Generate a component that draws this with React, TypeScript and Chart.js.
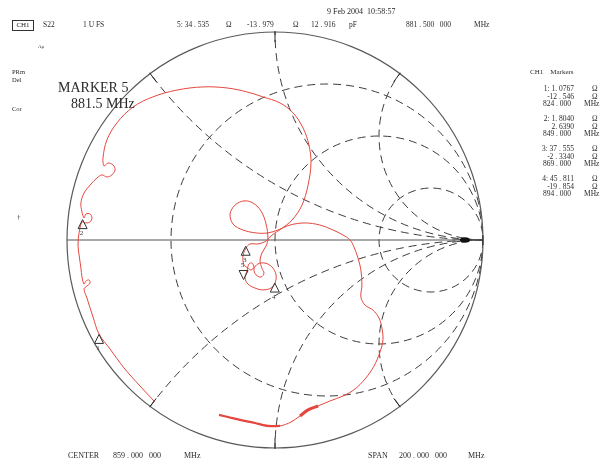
import React, { useEffect, useRef } from "react";
import { Chart, registerables } from "chart.js";
Chart.register(...registerables);

// S22 trace, reflection coefficient (real, imaginary), 759 -> 959 MHz
const traceRe = [
  -0.577, -0.649, -0.726, -0.793, -0.846, -0.875, -0.904, -0.918, -0.904, -0.889,
  -0.894, -0.909, -0.918, -0.928, -0.933, -0.942, -0.947, -0.942, -0.928, -0.909,
  -0.889, -0.880, -0.889, -0.909, -0.918, -0.928, -0.933, -0.918, -0.889, -0.856,
  -0.832, -0.808, -0.784, -0.769, -0.779, -0.803, -0.822, -0.827, -0.808, -0.760,
  -0.683, -0.587, -0.471, -0.346, -0.231, -0.135, -0.058, 0.024, 0.087, 0.135,
  0.163, 0.173, 0.159, 0.130, 0.082, 0.029, -0.014, -0.043,
  -0.082, -0.120, -0.139, -0.154, -0.149, -0.130, -0.115, -0.101, -0.111, -0.125,
  -0.135, -0.144, -0.130, -0.096, -0.058, -0.019, 0.000, 0.005, -0.014, -0.048,
  -0.082, -0.101, -0.091, -0.067, -0.053, -0.063, -0.072, -0.063, -0.043, -0.034,
  -0.043, -0.067, -0.106, -0.149, -0.192, -0.216, -0.202, -0.154, -0.091, -0.034,
  0.014, 0.072, 0.144, 0.216, 0.279, 0.327, 0.361,
  0.380, 0.399, 0.413, 0.418, 0.413, 0.433, 0.471, 0.500, 0.514, 0.519,
  0.505, 0.476, 0.433, 0.385, 0.327, 0.264, 0.207, 0.159, 0.120, 0.077,
  0.024, -0.034, -0.096, -0.168, -0.226, -0.269,
];
const traceIm = [
  -0.779, -0.702, -0.615, -0.524, -0.452, -0.370, -0.279, -0.236, -0.221, -0.207,
  -0.192, -0.197, -0.212, -0.178, -0.135, -0.072, -0.024, 0.034, 0.087, 0.082,
  0.087, 0.106, 0.125, 0.125, 0.106, 0.135, 0.178, 0.226, 0.264, 0.298,
  0.313, 0.303, 0.313, 0.337, 0.361, 0.370, 0.356, 0.394, 0.481, 0.563,
  0.639, 0.688, 0.721, 0.736, 0.731, 0.712, 0.688, 0.659, 0.611, 0.538,
  0.457, 0.370, 0.264, 0.168, 0.096, 0.053, 0.024, -0.005,
  -0.019, -0.019, -0.038, -0.077, -0.120, -0.135, -0.144, -0.130, -0.111, -0.115,
  -0.149, -0.183, -0.212, -0.231, -0.240, -0.231, -0.207, -0.168, -0.130, -0.111,
  -0.115, -0.139, -0.168, -0.178, -0.159, -0.135, -0.101, -0.063, -0.029, 0.005,
  0.077, 0.139, 0.178, 0.188, 0.168, 0.125, 0.077, 0.048, 0.034, 0.034,
  0.048, 0.072, 0.082, 0.072, 0.048, 0.024, 0.000,
  -0.034, -0.087, -0.144, -0.216, -0.274, -0.313, -0.337, -0.375, -0.423, -0.481,
  -0.538, -0.606, -0.668, -0.716, -0.750, -0.774, -0.798, -0.817, -0.846, -0.875,
  -0.894, -0.894, -0.880, -0.865, -0.851, -0.841,
];

// Markers (reflection coefficient positions)
const markerNames = ["1", "2", "3", "4", "5"];
const markerRe = [-0.846, -0.925, -0.141, -0.001, -0.151];
const markerIm = [-0.454, 0.098, -0.03, -0.207, -0.19];
const markerActive = [false, false, false, false, true];

// Marker readouts
const readR = ["1. 0767", "1. 8040", "37 . 555", "45 . 811"];
const readX = ["-12 . 546", "2. 6390", "-2 . 3340", "-19 . 854"];
const readF = ["824 . 000", "849 . 000", "869 . 000", "894 . 000"];

// Smith grid
const resistanceCircles = [1 / 3, 1, 3];
const reactanceArcs = [0.5, 1, 2, -0.5, -1, -2];
const referenceRe = 0.913;

const SERIF = "'Liberation Serif', 'DejaVu Serif', serif";

function T(props: { x: number; y: number; s: number; children: any; right?: boolean; style?: any }) {
  const st: any = {
    position: "absolute",
    top: props.y - props.s / 2,
    fontSize: props.s,
    lineHeight: 1,
    whiteSpace: "pre",
    fontFamily: SERIF,
    color: "#2a2a2a",
    ...(props.style || {}),
  };
  if (props.right) st.right = 608 - props.x;
  else st.left = props.x;
  return <div style={st}>{props.children}</div>;
}

const smithGrid = {
  id: "smithGrid",
  beforeDatasetsDraw(chart: any) {
    const ctx = chart.ctx;
    const xs = chart.scales.x;
    const ys = chart.scales.y;
    const px = (u: number) => xs.getPixelForValue(u);
    const py = (v: number) => ys.getPixelForValue(v);
    const cx = px(0);
    const cy = py(0);
    const R = px(1) - px(0);
    ctx.save();
    ctx.beginPath();
    ctx.arc(cx, cy, R, 0, Math.PI * 2);
    ctx.clip();
    ctx.setLineDash([8, 5]);
    ctx.strokeStyle = "#3c3c3c";
    ctx.lineWidth = 1;
    resistanceCircles.forEach((r) => {
      ctx.beginPath();
      ctx.arc(px(r / (1 + r)), cy, R / (1 + r), 0, Math.PI * 2);
      ctx.stroke();
    });
    reactanceArcs.forEach((x) => {
      ctx.beginPath();
      ctx.arc(px(1), py(1 / x), R / Math.abs(x), 0, Math.PI * 2);
      ctx.stroke();
    });
    ctx.restore();

    ctx.save();
    ctx.strokeStyle = "#5a5a5a";
    ctx.lineWidth = 1.2;
    ctx.beginPath();
    ctx.arc(cx, cy, R, 0, Math.PI * 2);
    ctx.stroke();
    ctx.strokeStyle = "#555";
    ctx.lineWidth = 1;
    ctx.beginPath();
    ctx.moveTo(px(-1), cy);
    ctx.lineTo(px(1), cy);
    ctx.stroke();
    // radial ticks where reactance arcs meet the outer circle
    ctx.strokeStyle = "#222";
    reactanceArcs.forEach((x) => {
      const u = (x * x - 1) / (x * x + 1);
      const v = (2 * x) / (x * x + 1);
      ctx.beginPath();
      ctx.moveTo(cx + u * (R + 1), cy - v * (R + 1));
      ctx.lineTo(cx + u * (R - 10), cy - v * (R - 10));
      ctx.stroke();
    });
    ctx.beginPath();
    ctx.moveTo(px(1), cy - 5);
    ctx.lineTo(px(1), cy + 5);
    ctx.stroke();
    // reference position marker
    ctx.fillStyle = "#111";
    ctx.beginPath();
    ctx.ellipse(px(referenceRe), cy, 5, 2.8, 0, 0, Math.PI * 2);
    ctx.fill();
    ctx.restore();
  },
};

const markerPlugin = {
  id: "markerPlugin",
  afterDatasetsDraw(chart: any) {
    const ctx = chart.ctx;
    const xs = chart.scales.x;
    const ys = chart.scales.y;
    ctx.save();
    ctx.strokeStyle = "#333";
    ctx.fillStyle = "#333";
    ctx.lineWidth = 1;
    ctx.font = "7px " + SERIF;
    ctx.textAlign = "center";
    ctx.textBaseline = "middle";
    markerNames.forEach((name, i) => {
      const x = xs.getPixelForValue(markerRe[i]);
      const y = ys.getPixelForValue(markerIm[i]);
      const d = markerActive[i] ? -1 : 1;
      ctx.beginPath();
      ctx.moveTo(x, y);
      ctx.lineTo(x - 4.5, y + d * 9);
      ctx.lineTo(x + 4.5, y + d * 9);
      ctx.closePath();
      ctx.stroke();
      ctx.fillText(name, x - 1, y + d * 14);
    });
    ctx.restore();
  },
};

export default function App() {
  const ref = useRef<HTMLCanvasElement | null>(null);
  useEffect(() => {
    if (!ref.current) return;
    const trace = traceRe.map((re, i) => ({ x: re, y: traceIm[i] }));
    const chart = new Chart(ref.current, {
      type: "scatter",
      data: {
        datasets: [
          {
            data: trace,
            showLine: true,
            borderColor: "#e4473e",
            borderWidth: 1,
            pointRadius: 0,
            tension: 0.35,
          } as any,
          {
            data: trace.slice(-10, -7),
            showLine: true,
            borderColor: "#e4473e",
            borderWidth: 3,
            pointRadius: 0,
            tension: 0.3,
          } as any,
          {
            data: trace.slice(-6),
            showLine: true,
            borderColor: "#e4473e",
            borderWidth: 2.2,
            pointRadius: 0,
            tension: 0.3,
          } as any,
        ],
      },
      options: {
        animation: false,
        responsive: false,
        maintainAspectRatio: false,
        devicePixelRatio: 1,
        layout: { padding: { left: 67, right: 125, top: 32, bottom: 16 } },
        scales: {
          x: { type: "linear", min: -1, max: 1, display: false },
          y: { type: "linear", min: -1, max: 1, display: false },
        },
        plugins: { legend: { display: false }, tooltip: { enabled: false } },
      },
      plugins: [smithGrid, markerPlugin],
    });
    return () => chart.destroy();
  }, []);

  return (
    <div style={{ position: "fixed", left: 0, top: 0, width: 608, height: 464, background: "#fff", overflow: "hidden" }}>
      <canvas ref={ref} width={608} height={464} style={{ position: "absolute", left: 0, top: 0 }} />
      {/* header */}
      <T x={327} y={12} s={8}>9 Feb 2004  10:58:57</T>
      <div style={{ position: "absolute", left: 12, top: 20, width: 20, height: 9, border: "1px solid #333", fontSize: 7, lineHeight: "9px", textAlign: "center", fontFamily: SERIF, color: "#222" }}>CH1</div>
      <T x={43} y={25} s={7.5}>S22</T>
      <T x={83} y={25} s={7.5}>1 U FS</T>
      <T x={177} y={25} s={7.5}>5: 34 . 535</T>
      <T x={226} y={25} s={7.5}>Ω</T>
      <T x={247} y={25} s={7.5}>-13 . 979</T>
      <T x={293} y={25} s={7.5}>Ω</T>
      <T x={311} y={25} s={7.5}>12 . 916</T>
      <T x={349} y={25} s={7.5}>pF</T>
      <T x={406} y={25} s={7.5}>881 . 500   000</T>
      <T x={474} y={25} s={7.5}>MHz</T>
      {/* left labels */}
      <T x={38} y={46} s={5}>Aμ</T>
      <T x={12} y={72} s={6.5}>PRm</T>
      <T x={12} y={80} s={6.5}>Del</T>
      <T x={12} y={109} s={6.5}>Cor</T>
      <T x={17} y={217} s={7}>†</T>
      <T x={58} y={88} s={14}>MARKER 5</T>
      <T x={71} y={104} s={14}>881.5 MHz</T>
      {/* right marker panel */}
      <T x={530} y={72} s={7}>CH1    Markers</T>
      {readR.map((r, i) => (
        <React.Fragment key={i}>
          <T x={574} y={89 + 30 * i} s={7.5} right>{`${i + 1}: ${r}`}</T>
          <T x={592} y={89 + 30 * i} s={7.5}>Ω</T>
          <T x={574} y={96.5 + 30 * i} s={7.5} right>{readX[i]}</T>
          <T x={592} y={96.5 + 30 * i} s={7.5}>Ω</T>
          <T x={571} y={104 + 30 * i} s={7.5} right>{readF[i]}</T>
          <T x={584} y={104 + 30 * i} s={7.5}>MHz</T>
        </React.Fragment>
      ))}
      {/* footer */}
      <T x={68} y={456} s={8}>CENTER</T>
      <T x={113} y={456} s={8}>859 . 000   000</T>
      <T x={184} y={456} s={8}>MHz</T>
      <T x={368} y={456} s={8}>SPAN</T>
      <T x={399} y={456} s={8}>200 . 000   000</T>
      <T x={468} y={456} s={8}>MHz</T>
    </div>
  );
}
